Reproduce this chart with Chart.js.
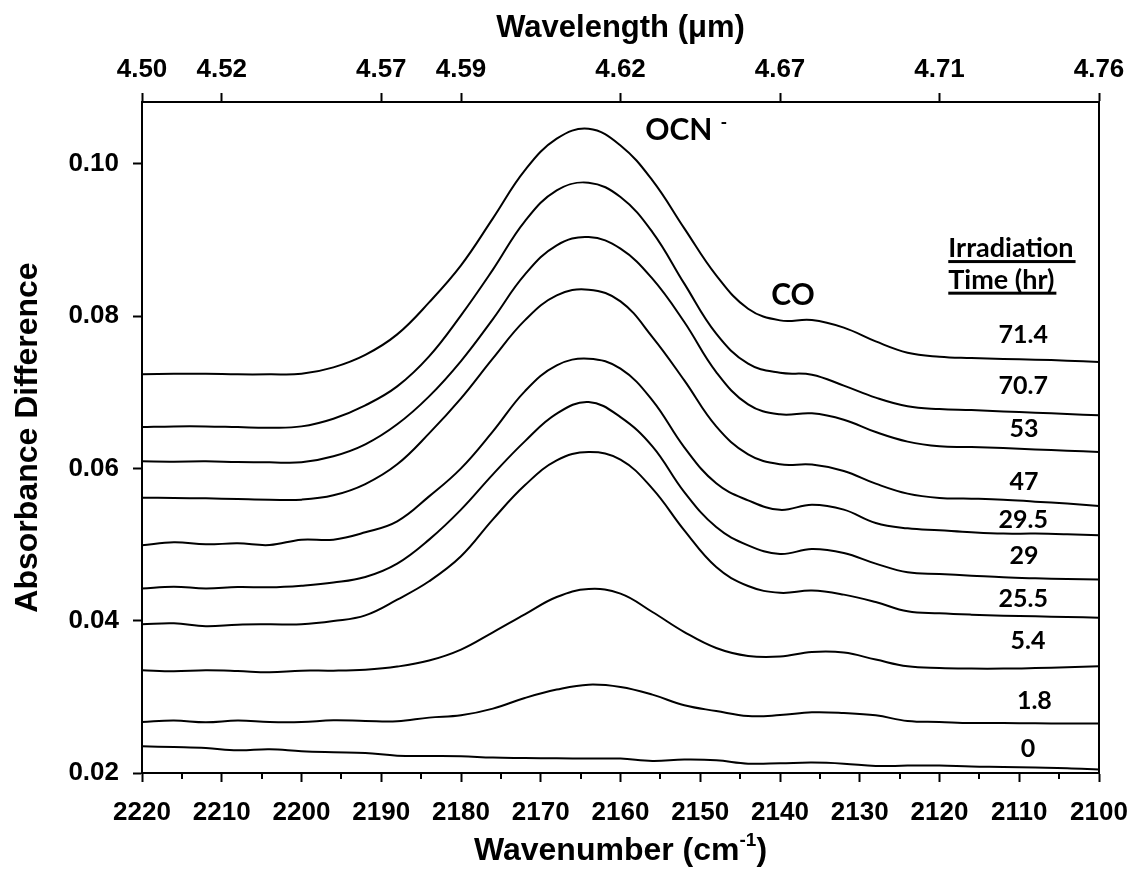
<!DOCTYPE html>
<html>
<head>
<meta charset="utf-8">
<title>OCN- and CO growth with irradiation time</title>
<script src="https://cdn.jsdelivr.net/npm/chart.js@4.4.1/dist/chart.umd.min.js"></script>
<style>
  html, body { margin: 0; padding: 0; background: #fff; overflow: hidden; }
  #wrap { width: 1132px; height: 873px; position: relative; }
</style>
</head>
<body>
<div id="wrap"><canvas id="spectra"></canvas></div>
<script>
// wavenumber grid (cm-1) shared by all spectra
const wavenumber = [2220, 2216, 2212, 2208, 2204, 2200, 2196, 2192, 2188, 2184, 2180, 2176, 2172, 2168, 2164, 2160,
  2156, 2152, 2148, 2144, 2140, 2136, 2132, 2128, 2124, 2120, 2116, 2112, 2108, 2104, 2100];

// absorbance difference, one array per irradiation time (hr)
const abs714 = [0.07234, 0.07241, 0.07243, 0.07234, 0.07234, 0.07241, 0.07326, 0.07490, 0.07759, 0.08179, 0.08665,
  0.09282, 0.09912, 0.10328, 0.10459, 0.10240, 0.09781, 0.09151, 0.08534, 0.08096, 0.07943, 0.07947, 0.07847,
  0.07667, 0.07519, 0.07466, 0.07448, 0.07435, 0.07427, 0.07414, 0.07396];
const abs707 = [0.06542, 0.06551, 0.06551, 0.06542, 0.06534, 0.06551, 0.06652, 0.06827, 0.07076, 0.07470, 0.08009,
  0.08609, 0.09243, 0.09650, 0.09751, 0.09562, 0.09102, 0.08425, 0.07768, 0.07374, 0.07254, 0.07230, 0.07086,
  0.06928, 0.06814, 0.06778, 0.06765, 0.06748, 0.06731, 0.06713, 0.06696];
const abs53 = [0.06092, 0.06088, 0.06092, 0.06083, 0.06079, 0.06079, 0.06158, 0.06315, 0.06578, 0.06945, 0.07409,
  0.07960, 0.08543, 0.08928, 0.09037, 0.08884, 0.08490, 0.07921, 0.07264, 0.06840, 0.06709, 0.06722, 0.06639,
  0.06477, 0.06351, 0.06289, 0.06280, 0.06267, 0.06249, 0.06232, 0.06214];
const abs47 = [0.05615, 0.05610, 0.05606, 0.05597, 0.05589, 0.05589, 0.05646, 0.05794, 0.06053, 0.06459, 0.06919,
  0.07444, 0.07943, 0.08271, 0.08346, 0.08192, 0.07724, 0.07155, 0.06551, 0.06184, 0.06053, 0.06049, 0.05965,
  0.05799, 0.05668, 0.05610, 0.05602, 0.05589, 0.05563, 0.05537, 0.05505];
const abs295 = [0.04989, 0.05029, 0.05002, 0.05015, 0.04993, 0.05064, 0.05064, 0.05160, 0.05304, 0.05632, 0.06000,
  0.06486, 0.07011, 0.07352, 0.07440, 0.07309, 0.06893, 0.06276, 0.05803, 0.05580, 0.05455, 0.05523, 0.05458,
  0.05282, 0.05212, 0.05186, 0.05160, 0.05143, 0.05143, 0.05134, 0.05120];
const abs29 = [0.04421, 0.04447, 0.04421, 0.04442, 0.04438, 0.04460, 0.04500, 0.04573, 0.04749, 0.05064, 0.05458,
  0.05921, 0.06354, 0.06718, 0.06870, 0.06673, 0.06289, 0.05689, 0.05229, 0.04989, 0.04875, 0.04941, 0.04888,
  0.04749, 0.04635, 0.04612, 0.04591, 0.04569, 0.04556, 0.04547, 0.04539];
const abs255 = [0.03952, 0.03965, 0.03926, 0.03948, 0.03952, 0.03952, 0.03995, 0.04070, 0.04276, 0.04517, 0.04845,
  0.05330, 0.05777, 0.06105, 0.06214, 0.06114, 0.05734, 0.05186, 0.04704, 0.04455, 0.04366, 0.04395, 0.04342,
  0.04245, 0.04123, 0.04097, 0.04079, 0.04066, 0.04057, 0.04048, 0.04040];
const abs54 = [0.03348, 0.03335, 0.03348, 0.03339, 0.03322, 0.03344, 0.03344, 0.03357, 0.03397, 0.03476, 0.03620,
  0.03847, 0.04083, 0.04311, 0.04416, 0.04355, 0.04114, 0.03851, 0.03641, 0.03536, 0.03528, 0.03588, 0.03581,
  0.03489, 0.03401, 0.03378, 0.03371, 0.03371, 0.03378, 0.03388, 0.03401];
const abs18 = [0.02670, 0.02688, 0.02666, 0.02688, 0.02670, 0.02670, 0.02692, 0.02683, 0.02679, 0.02727, 0.02757,
  0.02845, 0.02985, 0.03095, 0.03160, 0.03129, 0.03029, 0.02889, 0.02814, 0.02748, 0.02760, 0.02797, 0.02788,
  0.02757, 0.02683, 0.02670, 0.02656, 0.02656, 0.02652, 0.02649, 0.02649];
const abs0 = [0.02351, 0.02341, 0.02328, 0.02298, 0.02311, 0.02285, 0.02272, 0.02263, 0.02228, 0.02223, 0.02219,
  0.02202, 0.02197, 0.02193, 0.02189, 0.02189, 0.02158, 0.02176, 0.02167, 0.02123, 0.02127, 0.02137, 0.02123,
  0.02092, 0.02097, 0.02097, 0.02084, 0.02079, 0.02071, 0.02062, 0.02045];

const hours = ['71.4', '70.7', '53', '47', '29.5', '29', '25.5', '5.4', '1.8', '0'];
const series = [abs714, abs707, abs53, abs47, abs295, abs29, abs255, abs54, abs18, abs0];

// y ticks and the wavelength (um) labels on the top axis
const yTicks = [0.02, 0.04, 0.06, 0.08, 0.10];
const topTickAt = [2220, 2210, 2190, 2180, 2160, 2140, 2120, 2100];
const topTickText = ['4.50', '4.52', '4.57', '4.59', '4.62', '4.67', '4.71', '4.76'];

const AXIS_FONT = '"Liberation Sans", Arial, sans-serif';
const NOTE_FONT = 'Lato, "Open Sans", sans-serif';

// where each irradiation-time tag sits (wavenumber, absorbance), same order as hours
const tagSpots = [[2109.5, 0.0764], [2109.5, 0.0698], [2109.4, 0.0641], [2109.4, 0.0571], [2109.5, 0.0522],
  [2109.4, 0.0475], [2109.5, 0.0418], [2108.9, 0.0363], [2108.1, 0.02845], [2108.9, 0.0221]];

// titles, minor ticks, band names and tags
const decorations = {
  id: 'decorations',
  afterDraw(chart) {
    const ctx = chart.ctx;
    const xs = chart.scales.x, ys = chart.scales.y, area = chart.chartArea;
    const cx = (area.left + area.right) / 2;
    ctx.save();
    ctx.fillStyle = '#000';
    ctx.strokeStyle = '#000';

    // unlabelled ticks every 5 cm-1
    ctx.lineWidth = 2;
    for (let w = 2215; w > 2100; w -= 10) {
      const px = Math.round(xs.getPixelForValue(w));
      ctx.beginPath();
      ctx.moveTo(px, area.bottom);
      ctx.lineTo(px, area.bottom + 6);
      ctx.stroke();
    }

    // axis titles
    ctx.textBaseline = 'alphabetic';
    ctx.textAlign = 'center';
    ctx.font = 'bold 31px ' + AXIS_FONT;
    ctx.fillText('Wavelength (\u03bcm)', cx, 37);

    const big = 'bold 32px ' + AXIS_FONT, small = 'bold 19px ' + AXIS_FONT;
    ctx.font = big;
    const wa = ctx.measureText('Wavenumber (cm').width, wc = ctx.measureText(')').width;
    ctx.font = small;
    const wb = ctx.measureText('-1').width;
    let sx = cx - (wa + wb + wc) / 2;
    ctx.textAlign = 'left';
    ctx.font = big;
    ctx.fillText('Wavenumber (cm', sx, 860);
    ctx.font = small;
    ctx.fillText('-1', sx + wa, 846);
    ctx.font = big;
    ctx.fillText(')', sx + wa + wb, 860);

    ctx.save();
    ctx.translate(37, (area.top + area.bottom) / 2);
    ctx.rotate(-Math.PI / 2);
    ctx.textAlign = 'center';
    ctx.font = 'bold 32px ' + AXIS_FONT;
    ctx.fillText('Absorbance Difference', 0, 0);
    ctx.restore();

    // band names
    ctx.textAlign = 'left';
    ctx.font = 'bold 30px ' + NOTE_FONT;
    const ox = xs.getPixelForValue(2156.9), oy = ys.getPixelForValue(0.1031);
    ctx.fillText('OCN', ox, oy);
    const ow = ctx.measureText('OCN').width;
    ctx.font = 'bold 18px ' + NOTE_FONT;
    ctx.fillText('-', ox + ow + 8, oy - 11);
    ctx.font = 'bold 30px ' + NOTE_FONT;
    ctx.fillText('CO', xs.getPixelForValue(2141.1), ys.getPixelForValue(0.0814));

    // underlined heading of the tag column
    ctx.font = 'bold 27px ' + NOTE_FONT;
    const hx = xs.getPixelForValue(2118.9);
    [['Irradiation', 0.08774], ['Time (hr)', 0.08359]].forEach(([txt, v]) => {
      const hy = ys.getPixelForValue(v);
      ctx.fillText(txt, hx, hy);
      ctx.fillRect(hx, hy + 3, ctx.measureText(txt).width + 2, 3);
    });

    // irradiation time for each spectrum
    ctx.textAlign = 'center';
    ctx.font = 'bold 25px ' + NOTE_FONT;
    hours.forEach((h, k) => {
      ctx.fillText(h, xs.getPixelForValue(tagSpots[k][0]), ys.getPixelForValue(tagSpots[k][1]));
    });
    ctx.restore();
  }
};

const tickFont = { family: AXIS_FONT, size: 26, weight: 'bold' };

// keep the plot box fixed: no extra room for end labels
const noSidePad = s => { s.paddingLeft = 0; s.paddingRight = 0; };

new Chart(document.getElementById('spectra'), {
  type: 'line',
  data: {
    datasets: series.map((vals, k) => ({
      label: hours[k] + ' hr',
      data: vals.map((v, i) => ({ x: wavenumber[i], y: v })),
      borderColor: '#000',
      borderWidth: 2,
      pointRadius: 0,
      tension: 0.4,
      fill: false
    }))
  },
  options: {
    responsive: true,
    maintainAspectRatio: false,
    animation: false,
    layout: { padding: { left: 0, right: 33, top: 0, bottom: 0 } },
    plugins: { legend: { display: false }, tooltip: { enabled: false } },
    scales: {
      x: {
        type: 'linear', position: 'bottom', min: 2100, max: 2220, reverse: true,
        afterFit: s => { s.height = 100; noSidePad(s); },
        ticks: { stepSize: 10, padding: 15, color: '#000', font: tickFont, maxRotation: 0, autoSkip: false,
          callback: v => String(v) },
        grid: { drawOnChartArea: false, tickLength: 9, tickWidth: 2, tickColor: '#000' },
        border: { color: '#000', width: 2 }
      },
      x2: {
        type: 'linear', position: 'top', min: 2100, max: 2220, reverse: true,
        afterFit: s => { s.height = 102; noSidePad(s); },
        afterBuildTicks: s => { s.ticks = topTickAt.map(v => ({ value: v })); },
        ticks: { padding: 8, color: '#000', font: tickFont, maxRotation: 0, autoSkip: false,
          callback: (v, i) => topTickText[i] },
        grid: { drawOnChartArea: false, tickLength: 9, tickWidth: 2, tickColor: '#000' },
        border: { color: '#000', width: 2 }
      },
      y: {
        type: 'linear', position: 'left', min: 0.02, max: 0.1081,
        afterFit: s => { s.width = 142; },
        afterBuildTicks: s => { s.ticks = yTicks.map(v => ({ value: v })); },
        ticks: { padding: 14, color: '#000', font: tickFont, callback: v => v.toFixed(2) },
        grid: { drawOnChartArea: false, tickLength: 9, tickWidth: 2, tickColor: '#000' },
        border: { color: '#000', width: 2 }
      },
      y2: {
        type: 'linear', position: 'right',
        afterFit: s => { s.width = 0; },
        ticks: { display: false },
        grid: { drawOnChartArea: false, drawTicks: false },
        border: { color: '#000', width: 2 }
      }
    }
  },
  plugins: [decorations]
});
</script>
</body>
</html>
